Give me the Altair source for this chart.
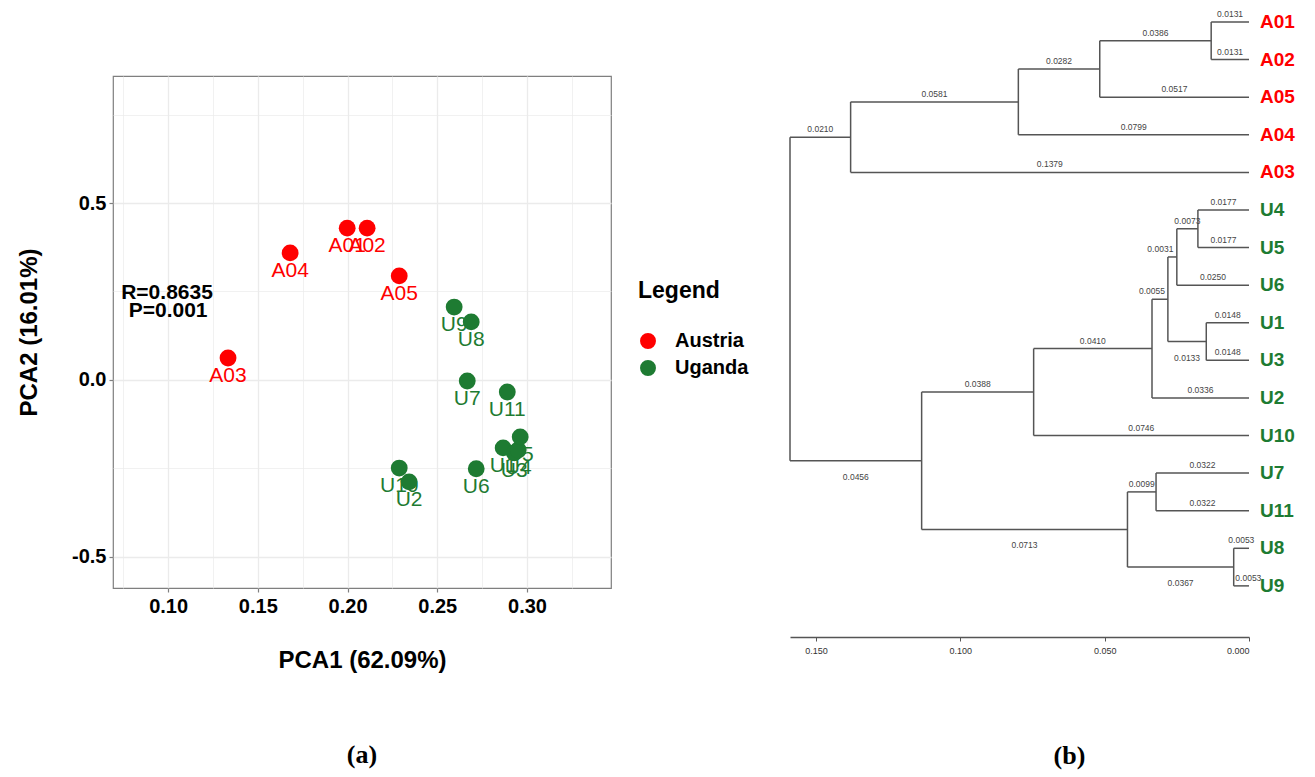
import altair as alt
import pandas as pd

FONT = "Liberation Sans"
SERIF = "Liberation Serif"
RED = "#ff0000"
GREEN = "#1e7b32"

# ---------------- Panel (a): PCA ----------------
samples = ["A01", "A02", "A03", "A04", "A05",
           "U1", "U2", "U3", "U4", "U5", "U6", "U7", "U8", "U9", "U10", "U11"]
country = ["Austria"] * 5 + ["Uganda"] * 11
pca1 = [0.1998, 0.2109, 0.1334, 0.1680, 0.2288,
        0.2867, 0.2343, 0.2929, 0.2951, 0.2962, 0.2717, 0.2667, 0.2689, 0.2594, 0.2288, 0.2890]
pca2 = [0.429, 0.429, 0.062, 0.359, 0.294,
        -0.192, -0.288, -0.206, -0.198, -0.161, -0.251, -0.003, 0.164, 0.206, -0.249, -0.034]

annot_text = ["R=0.8635", "P=0.001"]
annot_x = [0.0994, 0.1000]
annot_y = [0.246, 0.195]

x_ticks = [0.075, 0.10, 0.125, 0.15, 0.175, 0.20, 0.225, 0.25, 0.275, 0.30, 0.325]
y_ticks = [-0.5, -0.25, 0.0, 0.25, 0.5, 0.75]

# ---------------- Panel (b): dendrogram ----------------
leaf_order = ["A01", "A02", "A05", "A04", "A03", "U4", "U5", "U6", "U1", "U3",
              "U2", "U10", "U7", "U11", "U8", "U9"]
leaf_group = ["Austria"] * 5 + ["Uganda"] * 11
node_names = ["a1", "a2", "a3", "a4", "u1", "u2", "u3", "u4", "u5", "u6",
              "u7", "u8", "u9", "u10", "root"]
node_children = [("A01", "A02"), ("a1", "A05"), ("a2", "A04"), ("a3", "A03"),
                 ("U4", "U5"), ("u1", "U6"), ("U1", "U3"), ("u2", "u3"), ("u4", "U2"),
                 ("u5", "U10"), ("U7", "U11"), ("U8", "U9"), ("u7", "u8"), ("u6", "u9"),
                 ("a4", "u10")]
branch_lengths = [(0.0131, 0.0131), (0.0386, 0.0517), (0.0282, 0.0799), (0.0581, 0.1379),
                  (0.0177, 0.0177), (0.0073, 0.0250), (0.0148, 0.0148), (0.0031, 0.0133),
                  (0.0055, 0.0336), (0.0410, 0.0746), (0.0322, 0.0322), (0.0053, 0.0053),
                  (0.0099, 0.0367), (0.0388, 0.0713), (0.0210, 0.0456)]
tree_ticks = [0.0, 0.05, 0.10, 0.15]

# label placement styles (pixels) for the branch length labels
label_style = {"u10": "below", "u9": "below", "u8": "below", "u3": "below",
               "u2": "left12", "u4": "left8", "U9": "right7"}
style_offsets = {"above": (0, -8), "below": (0, 16), "left12": (-12, -8),
                 "left8": (-8, -8), "right7": (7, -8)}

heights = {n: 0.0 for n in leaf_order}
ypos = {n: float(i) for i, n in enumerate(leaf_order)}
segs, blabels = [], []
for name, (a, b), (la, lb) in zip(node_names, node_children, branch_lengths):
    h = heights[a] + la
    heights[name] = h
    ypos[name] = (ypos[a] + ypos[b]) / 2
    segs.append(dict(x=h, x2=h, y=ypos[a], y2=ypos[b]))
    for c, l in ((a, la), (b, lb)):
        segs.append(dict(x=h, x2=heights[c], y=ypos[c], y2=ypos[c]))
        blabels.append(dict(x=(h + heights[c]) / 2, y=ypos[c], text=f"{l:.4f}",
                            style=label_style.get(c, "above")))
root_h = heights["root"]

seg_df = pd.DataFrame(segs)
blab_df = pd.DataFrame(blabels)
leaf_df = pd.DataFrame({"leaf": leaf_order, "country": leaf_group,
                        "y": [ypos[n] for n in leaf_order], "x": [0.0] * len(leaf_order)})
pca_df = pd.DataFrame({"sample": samples, "country": country, "pca1": pca1, "pca2": pca2})
annot_df = pd.DataFrame({"text": annot_text, "x": annot_x, "y": annot_y})

# ---------------- build panel (a) ----------------
xs = alt.Scale(domain=[0.0693, 0.3468], nice=False, zero=False)
ys = alt.Scale(domain=[-0.588, 0.859], nice=False, zero=False)
minor_x = "abs(round(datum.value*40)) % 2 == 1"
minor_y = "abs(round(datum.value*4)) % 2 == 1"

x_axis = alt.Axis(
    values=x_ticks, title="PCA1 (62.09%)",
    labelExpr=f"{minor_x} ? '' : format(datum.value, '.2f')",
    labelFont=FONT, labelFontSize=20, labelFontWeight="bold", labelColor="black",
    labelPadding=4, titleFont=FONT, titleFontSize=24, titleFontWeight="bold",
    titleColor="black", titlePadding=32, domain=False,
    tickColor="#7f7f7f", tickSize=4, tickWidth=1.2,
    tickOpacity={"condition": {"test": minor_x, "value": 0}, "value": 1},
    grid=True, gridColor="#ebebeb",
    gridWidth={"condition": {"test": minor_x, "value": 0.7}, "value": 1.3},
)
y_axis = alt.Axis(
    values=y_ticks, title="PCA2 (16.01%)",
    labelExpr=f"{minor_y} ? '' : (datum.value < 0 ? '-' : '') + format(abs(datum.value), '.1f')",
    labelFont=FONT, labelFontSize=20, labelFontWeight="bold", labelColor="black",
    labelPadding=3, titleFont=FONT, titleFontSize=24, titleFontWeight="bold",
    titleColor="black", titlePadding=30, domain=False,
    tickColor="#7f7f7f", tickSize=4, tickWidth=1.2,
    tickOpacity={"condition": {"test": minor_y, "value": 0}, "value": 1},
    grid=True, gridColor="#ebebeb",
    gridWidth={"condition": {"test": minor_y, "value": 0.7}, "value": 1.3},
)
cscale = alt.Scale(domain=["Austria", "Uganda"], range=[RED, GREEN])

points = alt.Chart(pca_df).mark_circle(size=283, opacity=1).encode(
    x=alt.X("pca1:Q", scale=xs, axis=x_axis),
    y=alt.Y("pca2:Q", scale=ys, axis=y_axis),
    color=alt.Color("country:N", scale=cscale, legend=alt.Legend(
        title="Legend", orient="none", legendX=525, legendY=204, padding=0,
        titleFont=FONT, titleFontSize=23, titleFontWeight="bold", titleColor="black",
        titlePadding=28, labelFont=FONT, labelFontSize=20, labelFontWeight="bold",
        labelColor="black", symbolType="circle", symbolSize=254, symbolStrokeWidth=0,
        rowPadding=7, labelOffset=17)),
)
labels = alt.Chart(pca_df).mark_text(dy=18, fontSize=21, font=FONT).encode(
    x=alt.X("pca1:Q", scale=xs), y=alt.Y("pca2:Q", scale=ys),
    text="sample:N",
    color=alt.Color("country:N", scale=cscale, legend=None),
)
annot = alt.Chart(annot_df).mark_text(fontSize=21, fontWeight="bold", font=FONT,
                                      color="black").encode(
    x=alt.X("x:Q", scale=xs), y=alt.Y("y:Q", scale=ys), text="text:N")

panel_a = alt.layer(points, labels, annot).properties(
    width=498, height=512,
    view=alt.ViewBackground(stroke="#7f7f7f", strokeWidth=1.2),
    title=alt.TitleParams("(a)", orient="bottom", anchor="middle", frame="group",
                          font=SERIF, fontSize=26, fontWeight="bold", color="black",
                          offset=70),
)

# ---------------- build panel (b) ----------------
dxs = alt.Scale(domain=[0, root_h], reverse=True, nice=False, zero=False)
dys = alt.Scale(domain=[1.436, 16.36], reverse=True, nice=False, zero=False)
d_axis = alt.Axis(values=tree_ticks, format=".3f", title=None, grid=False,
                  labelFont=FONT, labelFontSize=9, labelColor="#333333",
                  domainColor="#555555", domainWidth=1.3, tickColor="#555555",
                  tickSize=4, labelPadding=5)

branches = alt.Chart(seg_df).mark_rule(color="#555555", strokeWidth=1.5).encode(
    x=alt.X("x:Q", scale=dxs, axis=d_axis), x2="x2:Q",
    y=alt.Y("y:Q", scale=dys, axis=None), y2="y2:Q",
)
leaf_text = alt.Chart(leaf_df).mark_text(align="left", dx=11, fontSize=19,
                                         fontWeight="bold", font=FONT).encode(
    x=alt.X("x:Q", scale=dxs), y=alt.Y("y:Q", scale=dys), text="leaf:N",
    color=alt.Color("country:N", scale=cscale, legend=None),
)
blayers = []
for st, (ox, oy) in style_offsets.items():
    blayers.append(
        alt.Chart(blab_df).transform_filter(alt.datum.style == st)
        .mark_text(dx=ox, dy=oy, fontSize=8.5, font=FONT, color="#444444")
        .encode(x=alt.X("x:Q", scale=dxs), y=alt.Y("y:Q", scale=dys), text="text:N")
    )

panel_b = alt.layer(branches, leaf_text, *blayers).properties(
    width=459, height=561,
    view=alt.ViewBackground(stroke="transparent", strokeOpacity=0),
    title=alt.TitleParams("(b)", orient="bottom", anchor="middle", frame="group",
                          font=SERIF, fontSize=26, fontWeight="bold", color="black",
                          offset=88, dx=50),
)

chart = alt.hconcat(panel_a, panel_b, spacing=179, bounds="flush").resolve_scale(
    color="independent"
).properties(
    padding={"left": 8, "top": 2, "right": 5, "bottom": 5},
).configure_view(strokeOpacity=0).configure(background="white")

chart.save("out.html", embed_options={"renderer": "svg", "actions": False})
